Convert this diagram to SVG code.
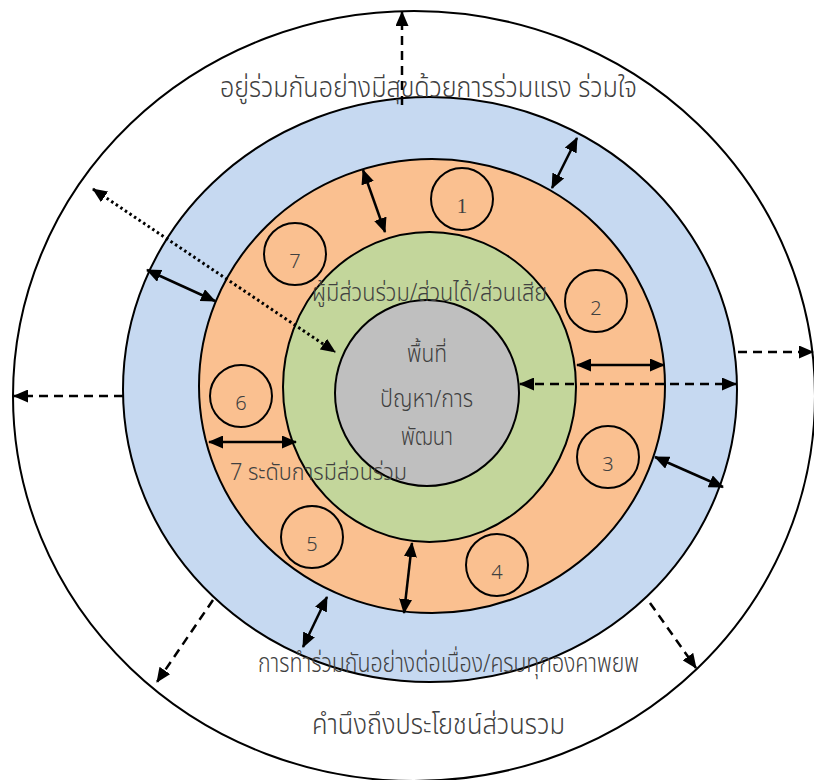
<svg xmlns="http://www.w3.org/2000/svg" width="814" height="780" viewBox="0 0 814 780">
<defs>
<marker id="ah" markerUnits="userSpaceOnUse" markerWidth="15" markerHeight="13" viewBox="0 0 15 13" refX="14" refY="6.5" orient="auto-start-reverse">
<path d="M0,0 L15,6.5 L0,13 z" fill="#000"/>
</marker>
</defs>
<style>
.ring{stroke:#000;stroke-width:2}
.small{fill:none;stroke:#000;stroke-width:2}
.num{font-family:"Noto Sans Thai","Noto Sans","DejaVu Sans",sans-serif;font-size:20px;font-weight:300;fill:#404040;text-anchor:middle}
.lbl{font-family:"Noto Sans Thai","Noto Sans","DejaVu Sans",sans-serif;font-weight:300;fill:#404040}
.solid{stroke:#000;stroke-width:2.5;fill:none}
.dash{stroke:#000;stroke-width:2.5;fill:none;stroke-dasharray:9 6}
.dot{stroke:#000;stroke-width:3;fill:none;stroke-dasharray:2.5 3}
</style>
<rect width="814" height="780" fill="#fff"/>
<g id="outer"><ellipse class="ring" cx="414" cy="396" rx="401" ry="385" fill="#fff"/></g>
<g id="blue"><ellipse class="ring" cx="430" cy="389.5" rx="307" ry="292.5" fill="#C6D9F1"/></g>
<g id="orange"><ellipse class="ring" cx="432" cy="386" rx="233" ry="227" fill="#FAC090"/></g>
<g id="green"><ellipse class="ring" cx="429.5" cy="387" rx="146.5" ry="155" fill="#C3D69B"/></g>
<g id="center"><ellipse class="ring" cx="427" cy="393" rx="92" ry="93" fill="#BFBFBF"/></g>
<g id="level1"><circle class="small" cx="462" cy="199" r="31"/><text class="num" x="462" y="213" style="font-family:'Liberation Serif',serif;font-size:21px">1</text></g>
<g id="level2"><circle class="small" cx="596" cy="301" r="31"/><text class="num" x="596" y="315">2</text></g>
<g id="level3"><circle class="small" cx="608" cy="457" r="31"/><text class="num" x="608" y="471">3</text></g>
<g id="level4"><circle class="small" cx="497" cy="565" r="31"/><text class="num" x="497" y="579">4</text></g>
<g id="level5"><circle class="small" cx="312" cy="537" r="31"/><text class="num" x="312" y="551">5</text></g>
<g id="level6"><circle class="small" cx="241" cy="396" r="31"/><text class="num" x="241" y="410">6</text></g>
<g id="level7"><circle class="small" cx="295" cy="254" r="31"/><text class="num" x="295" y="268">7</text></g>
<g id="labels">
<text class="lbl" x="220" y="97" font-size="29" textLength="417" lengthAdjust="spacingAndGlyphs">อยู่ร่วมกันอย่างมีสุขด้วยการร่วมแรง ร่วมใจ</text>
<text class="lbl" x="312" y="301" font-size="25" textLength="235" lengthAdjust="spacingAndGlyphs">ผู้มีส่วนร่วม/ส่วนได้/ส่วนเสีย</text>
<text class="lbl" x="407" y="362" font-size="24" textLength="40" lengthAdjust="spacingAndGlyphs">พื้นที่</text>
<text class="lbl" x="380" y="407" font-size="24" textLength="93" lengthAdjust="spacingAndGlyphs">ปัญหา/การ</text>
<text class="lbl" x="401" y="445" font-size="24" textLength="52" lengthAdjust="spacingAndGlyphs">พัฒนา</text>
<text class="lbl" x="230" y="480" font-size="23" textLength="177" lengthAdjust="spacingAndGlyphs">7 ระดับการมีส่วนร่วม</text>
<text class="lbl" x="258" y="672" font-size="26" textLength="381" lengthAdjust="spacingAndGlyphs">การทำร่วมกันอย่างต่อเนื่อง/ครบทุกองคาพยพ</text>
<text class="lbl" x="312" y="734" font-size="29" textLength="253" lengthAdjust="spacingAndGlyphs">คำนึงถึงประโยชน์ส่วนรวม</text>
</g>
<g id="connectors">
<line class="dash" x1="402" y1="105" x2="402" y2="12" marker-end="url(#ah)"/>
<line class="dash" x1="738" y1="352" x2="813" y2="352" marker-end="url(#ah)"/>
<line class="dash" x1="520" y1="384" x2="736" y2="384" marker-start="url(#ah)" marker-end="url(#ah)"/>
<line class="solid" x1="577" y1="365" x2="664" y2="365" marker-start="url(#ah)" marker-end="url(#ah)"/>
<line class="solid" x1="655" y1="457" x2="723" y2="487" marker-start="url(#ah)" marker-end="url(#ah)"/>
<line class="dash" x1="123" y1="396" x2="14" y2="396" marker-end="url(#ah)"/>
<line class="dot" x1="93" y1="189" x2="335" y2="352" marker-start="url(#ah)" marker-end="url(#ah)"/>
<line class="solid" x1="147" y1="270" x2="215" y2="301" marker-start="url(#ah)" marker-end="url(#ah)"/>
<line class="solid" x1="209" y1="442" x2="296" y2="442" marker-start="url(#ah)" marker-end="url(#ah)"/>
<line class="solid" x1="363" y1="170" x2="385" y2="232" marker-start="url(#ah)" marker-end="url(#ah)"/>
<line class="solid" x1="552" y1="188" x2="577" y2="138" marker-start="url(#ah)" marker-end="url(#ah)"/>
<line class="solid" x1="412" y1="543" x2="404" y2="613" marker-start="url(#ah)" marker-end="url(#ah)"/>
<line class="solid" x1="327" y1="597" x2="303" y2="647" marker-start="url(#ah)" marker-end="url(#ah)"/>
<line class="dash" x1="213" y1="600" x2="157" y2="682" marker-end="url(#ah)"/>
<line class="dash" x1="650" y1="603" x2="696" y2="668" marker-end="url(#ah)"/>
</g>
</svg>
